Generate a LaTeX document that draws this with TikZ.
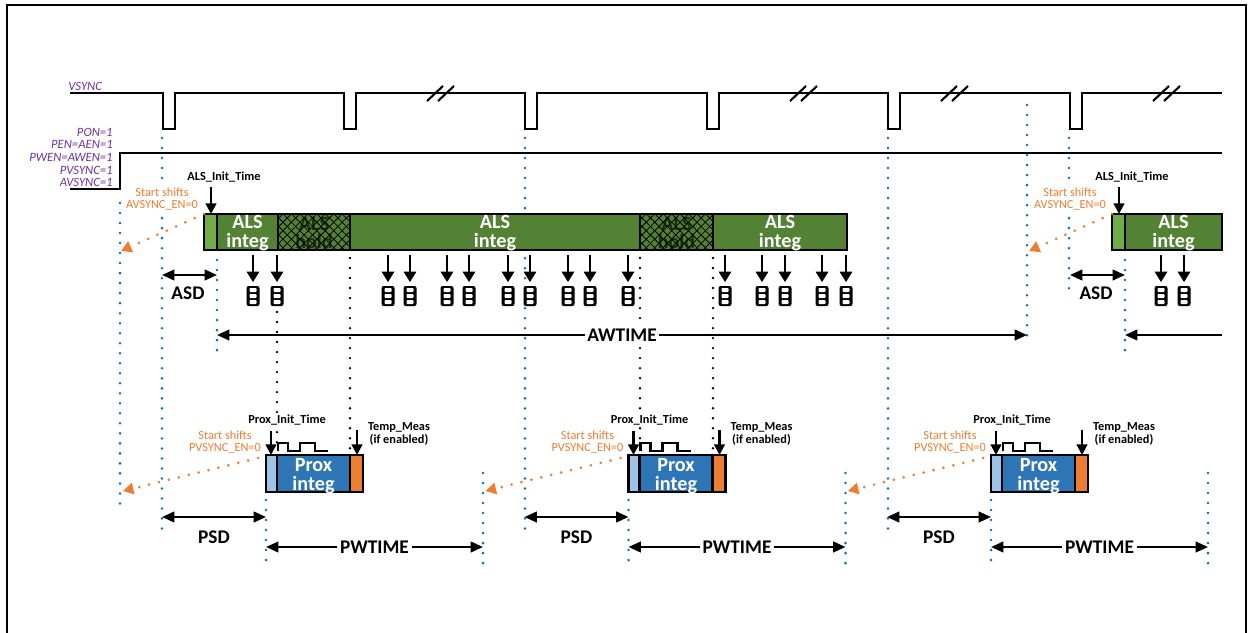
\documentclass[tikz,border=0pt]{standalone}
\usepackage{fontspec}
\setmainfont{Carlito}
\usetikzlibrary{arrows.meta,patterns.meta}
\definecolor{sigpurple}{RGB}{112,48,160}
\definecolor{shiftorange}{RGB}{237,125,49}
\definecolor{guideblue}{RGB}{0,112,192}
\definecolor{alsgreen}{RGB}{84,130,53}
\definecolor{alslight}{RGB}{112,173,71}
\definecolor{holdtextcol}{RGB}{28,48,18}
\definecolor{proxblue}{RGB}{46,117,182}
\definecolor{proxlight}{RGB}{157,195,230}
\tikzset{wave/.style={line width=1.4pt},outerframe/.style={line width=1.2pt},
 siglabel/.style={font=\fontsize{7.2}{7.4}\selectfont\itshape,text=sigpurple,inner sep=0pt,anchor=east},
 blueguide/.style={guideblue,line width=1.6pt,line cap=round,dash pattern=on 0pt off 5.7pt},
 holdguide/.style={black,line width=1.5pt,line cap=round,dash pattern=on 0pt off 5.7pt},
 shiftarrow/.style={shiftorange,line width=1.7pt,line cap=round,dash pattern=on 0pt off 5.8pt,-{Triangle[width=6.5pt,length=6pt]}},
 shiftlabel/.style={font=\fontsize{7}{7.2}\selectfont,text=shiftorange,align=center,fill=white,inner sep=0.5pt},
 tinylabel/.style={font=\fontsize{7}{7.4}\selectfont\bfseries,align=center,fill=white,inner sep=0.5pt},
 spanlabel/.style={font=\fontsize{11}{11}\selectfont\bfseries,inner sep=1.5pt},
 spanarrow/.style={{Triangle[width=6pt,length=7pt]}-{Triangle[width=6pt,length=7pt]},line width=1.3pt},
 halfspan/.style={-{Triangle[width=6pt,length=7pt]},line width=1.3pt},
 marker/.style={-{Triangle[width=6pt,length=6pt]},line width=1.3pt},
 readout/.style={-{Triangle[width=7pt,length=6pt]},line width=1.3pt,shorten >=2pt},
 blocktext/.style={font=\fontsize{11.5}{10.5}\selectfont\bfseries,text=white,align=center,inner sep=0pt},
 barframe/.style={line width=1.2pt},
 fifo/.style={fill=black,rounded corners=1.2pt,minimum width=0.26cm,minimum height=0.4cm,inner sep=0pt}}

\begin{document}
\begin{tikzpicture}[x=0.02cm,y=-0.02cm]
\useasboundingbox (0,0) rectangle (1250,632);
\draw[outerframe] (7,645) -- (7,5) -- (1246,5) -- (1246,645);

\foreach \x/\ya/\yb in {120/203/508,1027/105/345,1069/138/290,217/260/352,1125/260/352}
 \draw[blueguide] (\x,\ya) -- (\x,\yb);
\foreach \b/\v in {266/162,628.5/525,991/888} {
 \draw[blueguide] (\v,138) -- (\v,537);
 \draw[blueguide] (\b,500) -- (\b,567);
 \draw[blueguide] ({\b+217},473) -- ({\b+217},567);
}
\foreach \x/\ya in {277/312,350/258,640/258,713/258}
 \draw[holdguide] (\x,\ya) -- (\x,450);

\draw[wave] (70,93) foreach \p in {163,344,525,707,888,1070} { -- (\p,93) -- (\p,129) -- ({\p+12},129) -- ({\p+12},93) } -- (1222,93);
\foreach \c in {440,803,954,1166} {
 \draw[line width=1.2pt] ({\c-13},101) -- ({\c+3},86);
 \draw[line width=1.2pt] ({\c-2},101) -- ({\c+14},86);
}
\draw[wave] (70,189) -- (120,189) -- (120,153) -- (1222,153);
\node[siglabel,anchor=west] (vsync) at (68,86) {VSYNC};
\foreach \t [count=\i] in {PON=1,PEN=AEN=1,PWEN=AWEN=1,PVSYNC=1,AVSYNC=1}
 \node[siglabel] (en\i) at (113,{119.4+12.7*\i}) {\t};

\fill[alslight] (204,214) rectangle (217,250);
\fill[alslight] (1112,214) rectangle (1125,250);
\foreach \l/\r in {217/278,350/640,713/847,1125/1222}
 \fill[alsgreen] (\l,214) rectangle (\r,250);
\foreach \l/\r [count=\i] in {278/350,640/713} {
 \fill[alsgreen] (\l,214) rectangle (\r,250);
 \node[blocktext,text=holdtextcol] (hold\i) at ({(\l+\r)/2},233) {ALS\\hold};
 \fill[pattern={Lines[angle=45,distance=3.4pt,line width=0.45pt]}] (\l,214) rectangle (\r,250);
 \fill[pattern={Lines[angle=-45,distance=3.4pt,line width=0.45pt]}] (\l,214) rectangle (\r,250);
}
\draw[barframe] (204,214) rectangle (847,250) (1112,214) rectangle (1222,250);
\foreach \x in {217,278,350,640,713,1125}
 \draw[barframe] (\x,214) -- (\x,250);
\foreach \l/\r [count=\i] in {217/278,350/640,713/847,1125/1222}
 \node[blocktext] (integ\i) at ({(\l+\r)/2},233) {ALS\\integ};

\foreach \x [count=\i] in {253,277,388,410,447,469,508,530,568,590,628,725,762,785,822,846,1161,1184} {
 \coordinate (rd\i) at (\x,255);
 \node[fifo] (fifo\i) at (\x,296) {};
 \draw[readout] (rd\i) -- (fifo\i.north);
 \foreach \s in {-1,0,1}
  \fill[white,rounded corners=0.5pt] ({\x-3.5},{294+6*\s}) rectangle ++(7,4);
}

\foreach \a [count=\i] in {204,1112} {
 \node[tinylabel] (ainit\i) at ({\a+20},177) {ALS\_Init\_Time};
 \coordinate (ainitTop\i) at ({\a+7},187);
 \coordinate (ainitEnd\i) at ({\a+7},214);
 \draw[marker] (ainitTop\i) -- (ainitEnd\i);
 \node[shiftlabel] (ashift\i) at ({\a-42},199) {Start shifts\\AVSYNC\_EN=0};
 \coordinate (astart\i) at (\a,214);
 \coordinate (aland\i) at ({\a-83},251);
 \draw[shiftarrow] (astart\i) -- (aland\i);
 \coordinate (asdL\i) at ({\a-42},275);
 \coordinate (asdR\i) at ({\a+13},275);
 \draw[spanarrow] (asdL\i) -- (asdR\i);
 \node[spanlabel] (asd\i) at ({\a-16},293) {ASD};
}
\coordinate (awL) at (217,335);
\coordinate (awR) at (1027,335);
\draw[spanarrow] (awL) -- (awR) node[midway,spanlabel,fill=white] (awtime) {AWTIME};
\coordinate (aw2R) at (1222,335);
\coordinate (aw2L) at (1125,335);
\draw[halfspan] (aw2R) -- (aw2L);

\foreach \b [count=\i] in {266,628.5,991} {
 \fill[proxlight] (\b,455) rectangle ++(11,37);
 \fill[proxblue] ({\b+11},455) rectangle ++(73,37);
 \fill[shiftorange] ({\b+84},455) rectangle ++(13,37);
 \draw[barframe] (\b,455) rectangle ++(97,37) ({\b+11},455) -- ++(0,37) ({\b+84},455) -- ++(0,37);
 \node[blocktext] (prox\i) at ({\b+47.5},476) {Prox\\integ};
 \draw[line width=1.2pt] ({\b+12},451) -- ++(0,-8) -- ++(10,0) -- ++(0,8) -- ++(12,0) -- ++(0,-8) -- ++(15,0) -- ++(0,8) -- ++(13,0);
 \node[tinylabel] (pinit\i) at ({\b+21},420) {Prox\_Init\_Time};
 \coordinate (pinitTop\i) at ({\b+5},431);
 \coordinate (pinitEnd\i) at ({\b+5},455);
 \draw[marker] (pinitTop\i) -- (pinitEnd\i);
 \node[tinylabel] (temp\i) at ({\b+133},434) {Temp\_Meas\\(if enabled)};
 \coordinate (tempTop\i) at ({\b+91},430);
 \coordinate (tempEnd\i) at ({\b+91},455);
 \draw[marker] (tempTop\i) -- (tempEnd\i);
 \node[shiftlabel] (pshift\i) at ({\b-41},442) {Start shifts\\PVSYNC\_EN=0};
 \coordinate (pstart\i) at ({\b-8},458);
 \coordinate (pland\i) at ({\b-143},491);
 \draw[shiftarrow] (pstart\i) -- (pland\i);
 \coordinate (psdL\i) at ({\b-104},517);
 \coordinate (psdR\i) at (\b,517);
 \draw[spanarrow] (psdL\i) -- (psdR\i);
 \node[spanlabel] (psd\i) at ({\b-52},537) {PSD};
 \coordinate (pwL\i) at (\b,547);
 \coordinate (pwR\i) at ({\b+217},547);
 \draw[spanarrow] (pwL\i) -- (pwR\i) node[midway,spanlabel,fill=white] (pw\i) {PWTIME};
}
\end{tikzpicture}
\end{document}
